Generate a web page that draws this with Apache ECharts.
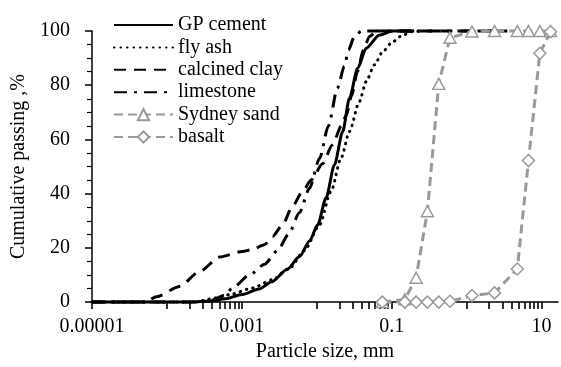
<!DOCTYPE html>
<html>
<head>
<meta charset="utf-8">
<script src="https://cdn.jsdelivr.net/npm/echarts@6/dist/echarts.min.js"></script>
<style>
  html, body { margin: 0; padding: 0; background: #fff; }
  #chart { width: 561px; height: 367px; }
</style>
</head>
<body>
<div id="chart"></div>
<script>
// particle size in mm, cumulative passing in %
const gpSize = [0.00001, 0.0002, 0.0004, 0.0006, 0.001, 0.0017, 0.0025, 0.004, 0.0059, 0.008, 0.0103, 0.0133, 0.0172, 0.0222, 0.0273, 0.0352, 0.0456, 0.0686, 0.103, 0.2];
const gpPass = [0, 0, 0.4, 1.2, 2.8, 4.8, 7.5, 12, 16.8, 22.5, 28.5, 38.4, 50.6, 62.9, 75.2, 86.3, 93.6, 98.5, 100, 100];

const flySize = [0.00001, 0.00023, 0.00046, 0.00069, 0.00139, 0.00257, 0.00432, 0.00686, 0.0109, 0.0155, 0.0211, 0.0273, 0.0371, 0.0456, 0.0588, 0.0759, 0.103, 0.14, 0.19, 0.25];
const flyPass = [0, 0, 1.5, 2.8, 5.2, 8.3, 12.5, 19, 28.5, 40.8, 53.1, 62.9, 74, 81.3, 87.5, 92.4, 96, 98.5, 99.8, 100];

const claySize = [0.00001, 0.00005, 0.000073, 0.000148, 0.000273, 0.000505, 0.00102, 0.00135, 0.00201, 0.00257, 0.00349, 0.00474, 0.00644, 0.00849, 0.0119, 0.0162, 0.0213, 0.0249, 0.029, 0.0349, 0.042, 0.0505, 0.0644, 3.5];
const clayPass = [0, 0, 2, 5.8, 11.3, 16.6, 18.7, 19.3, 21.2, 24.2, 28.5, 35.3, 40.8, 45.1, 51, 58, 65, 69, 76, 85, 93, 98, 100, 100];

const limeSize = [0.00001, 0.0002, 0.00037, 0.00059, 0.00075, 0.00127, 0.00201, 0.00299, 0.0042, 0.00587, 0.008, 0.0109, 0.0143, 0.0189, 0.0234, 0.0265, 0.0318, 0.0395, 3.5];
const limePass = [0, 0, 0.5, 2.5, 5.2, 10, 14, 19, 25, 33, 42, 53, 65, 79, 87, 93, 98, 100, 100];

const sieveSize = [0.075, 0.15, 0.212, 0.3, 0.425, 0.6, 1.18, 2.36, 4.75, 6.7, 9.5, 13.2];
const sandPass = [0, 1, 9, 33.5, 80.5, 97.5, 99.8, 100, 100, 100, 100, 100];
const basaltPass = [0, 0, 0, 0, 0, 0.3, 2.4, 3.4, 12.2, 52.2, 91.8, 99.7];

const xMajorTicks = [0.00001, 0.001, 0.1, 10];
const xTickLabels = ['0.00001', '0.001', '0.1', '10'];
const xMinorDecades = [0.0001, 0.01, 1];

// minor ticks 1..9 x decade, only in the odd decades (like the original)
const xAllTicks = xMajorTicks.slice();
xMinorDecades.forEach(d => {
  for (let k = 1; k <= 9; k++) xAllTicks.push(+(k * d).toPrecision(3));
});

const zip = (xs, ys) => xs.map((x, i) => [x, ys[i]]);

const FONT = "'Liberation Serif', 'Times New Roman', serif";
const GREY = '#9a9a9a';

const xLabel = (v) => {
  for (let i = 0; i < xMajorTicks.length; i++) {
    if (Math.abs(v - xMajorTicks[i]) < xMajorTicks[i] * 0.01) return xTickLabels[i];
  }
  return '';
};

const blackLine = (name, sizes, pass, dash) => ({
  name: name,
  type: 'line',
  data: zip(sizes, pass),
  symbol: 'none',
  smooth: 0.25,
  smoothMonotone: 'x',
  clip: false,
  lineStyle: Object.assign({ color: '#000', width: 3 }, dash || {}),
  // hides the circle the legend would otherwise put on the line icon
  itemStyle: { color: '#000', opacity: 0 },
});

const greyLine = (name, pass, symbol, size) => ({
  name: name,
  type: 'line',
  data: zip(sieveSize, pass),
  symbol: symbol,
  symbolSize: size,
  showAllSymbol: true,
  clip: false,
  lineStyle: { color: GREY, width: 3, type: [9, 5] },
  itemStyle: { color: '#fff', borderColor: GREY, borderWidth: 1.5 },
});

const chart = echarts.init(document.getElementById('chart'));

const option = {
  animation: false,
  backgroundColor: '#fff',
  textStyle: { fontFamily: FONT },
  grid: { left: 92, right: 3, top: 31, bottom: 64.5 },
  legend: {
    orient: 'vertical',
    left: 113,
    top: 15,
    padding: 0,
    itemWidth: 59,
    itemHeight: 14,
    itemGap: 2.4,
    textStyle: { fontSize: 20, color: '#000', fontFamily: FONT },
    data: ['GP cement', 'fly ash', 'calcined clay', 'limestone', 'Sydney sand', 'basalt'],
  },
  xAxis: {
    type: 'log',
    logBase: 10,
    min: 0.00001,
    max: 16.6,
    name: 'Particle size, mm',
    nameLocation: 'middle',
    nameGap: 34,
    nameTextStyle: { fontSize: 20, color: '#000', fontFamily: FONT },
    axisLine: { lineStyle: { color: '#000', width: 1.5 } },
    axisTick: { show: true, customValues: xAllTicks, length: 7, lineStyle: { color: '#000', width: 1.6 } },
    axisLabel: {
      customValues: xMajorTicks,
      formatter: xLabel,
      margin: 15,
      fontSize: 20,
      color: '#000',
      fontFamily: FONT,
    },
    splitLine: { show: false },
  },
  yAxis: {
    type: 'value',
    min: 0,
    max: 100,
    interval: 20,
    name: 'Cumulative passing ,%',
    nameLocation: 'middle',
    nameGap: 62,
    nameTextStyle: { fontSize: 20, color: '#000', fontFamily: FONT },
    axisLine: { show: true, lineStyle: { color: '#000', width: 1.5 } },
    axisTick: { show: true, length: 7, lineStyle: { color: '#000', width: 1.5 } },
    minorTick: { show: true, splitNumber: 4, length: 5, lineStyle: { color: '#000', width: 1.2 } },
    axisLabel: { margin: 22, fontSize: 20, color: '#000', fontFamily: FONT },
    splitLine: { show: false },
  },
  series: [
    blackLine('GP cement', gpSize, gpPass),
    blackLine('fly ash', flySize, flyPass, { type: [0.5, 6], cap: 'round' }),
    blackLine('calcined clay', claySize, clayPass, { type: [12, 8] }),
    blackLine('limestone', limeSize, limePass, { type: [13, 7, 3, 7] }),
    greyLine('Sydney sand', sandPass, 'triangle', [12, 11]),
    greyLine('basalt', basaltPass, 'diamond', [12, 12]),
  ],
};

chart.setOption(option);
</script>
</body>
</html>
